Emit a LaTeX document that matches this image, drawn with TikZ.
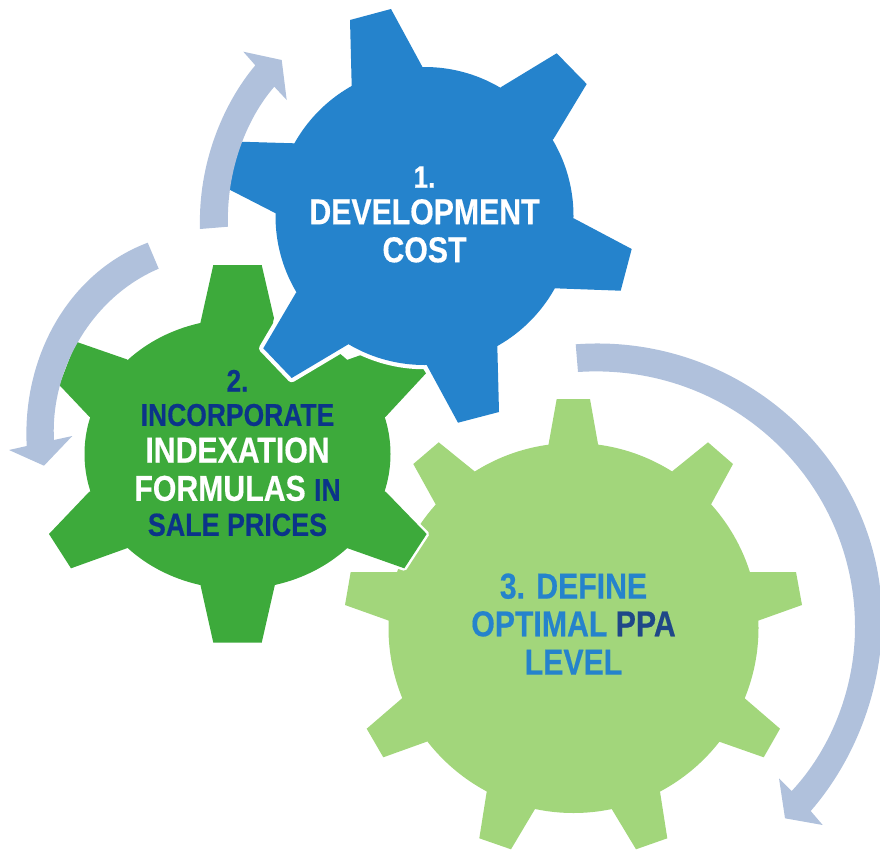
\documentclass[tikz,border=0pt]{standalone}
\usepackage{fontspec}
\setmainfont[FakeStretch=0.84,BoldFeatures={FakeBold=0.4}]{Liberation Sans}
\definecolor{gearblue}{HTML}{2583CC}
\definecolor{geargreen}{HTML}{3DAA3B}
\definecolor{gearlight}{HTML}{A2D67B}
\definecolor{arrowblue}{HTML}{B0C1DC}
\definecolor{inkblue}{HTML}{0B3489}
\definecolor{inkppa}{HTML}{1F4788}
\newcommand{\fs}[1]{\fontsize{#1}{37}\selectfont}
\tikzset{
  halogear/.style n args={2}{fill=#1,preaction={draw=white,line width=#2,line join=round}},
  bend arrow/.style={fill=arrowblue},
  label text/.style={inner sep=0pt,align=center,font=\bfseries\fs{36}}
}
\begin{document}
\begin{tikzpicture}[x=1pt,y=-1pt]
\useasboundingbox (0,0) rectangle (880,851);
% light green gear
\coordinate (lc) at (573.5,628);
\path[fill=gearlight] (lc) circle[radius=185pt]
 (598.3,445.7)--(590,399)--(556.7,399)--(548.3,445.7)--(lc)--cycle
 (710.7,505)--(733,464)--(708,442.3)--(671.7,471.7)--(lc)--cycle
 (758,620.7)--(802,605)--(796,572)--(749,572)--(lc)--cycle
 (719.3,741.7)--(763.7,757.3)--(780,728.7)--(744.7,698.3)--(lc)--cycle
 (611.7,809)--(636,849.3)--(667.3,838.3)--(660,791.7)--(lc)--cycle
 (486.7,791.7)--(479.3,838.3)--(511,849.3)--(535,809)--(lc)--cycle
 (402,698.3)--(366.7,728.7)--(383.3,757.3)--(426.7,741.7)--(lc)--cycle
 (397.7,572)--(350.7,572)--(345,605)--(389,620.7)--(lc)--cycle
 (475,471.7)--(438.7,442.3)--(413.3,464)--(436,505)--(lc)--cycle;
% green gear
\coordinate (gc) at (237.5,454);
\path[halogear={geargreen}{5pt}] (gc) ellipse[x radius=153pt,y radius=135pt]
 (274,318.3)--(261.7,265)--(213.3,265)--(200.3,323.3)--(gc)--cycle
 (385.7,416.7)--(426,373.3)--(404.3,339.7)--(347.7,359.7)--(gc)--cycle
 (347.7,548.3)--(404.3,568.3)--(426.7,534)--(385.7,491.7)--(gc)--cycle
 (200.3,584.3)--(213.3,642.7)--(261.7,642.7)--(275,584.3)--(gc)--cycle
 (89.3,491.7)--(49,534)--(71,568.3)--(126.7,548.3)--(gc)--cycle
 (126.7,359.3)--(76,341.7)--(59.3,385)--(89.3,416.7)--(gc)--cycle;
% blue gear
\coordinate (bc) at (424.5,216);
\path[halogear={gearblue}{8.5pt}] (bc) circle[radius=149pt]
 (422.3,66.7)--(391,9)--(350,20)--(351.7,86)--(bc)--cycle
 (553.3,139.3)--(586.7,84)--(556.7,53.3)--(500.7,87.3)--(bc)--cycle
 (554.7,288.3)--(620.7,290.7)--(631.7,249)--(573.7,218.3)--(bc)--cycle
 (426.7,365)--(458,422.7)--(499,412)--(497.3,345.7)--(bc)--cycle
 (296,292.7)--(263.3,348.3)--(291.7,378)--(348.3,344.3)--(bc)--cycle
 (294,143.3)--(240,141.7)--(228.3,189)--(275.7,213.3)--(bc)--cycle;
% circular arrows
\path[bend arrow] (200,229) .. controls (198,165) and (222,105) .. (255.3,65.3)
 -- (243.3,51.7) -- (281.7,60) -- (286.7,100) -- (274.3,86.7)
 .. controls (247,118) and (226,170) .. (228,226.7) -- cycle;
\path[bend arrow] (147.7,242.7) .. controls (70,272) and (22,355) .. (26.7,446)
 -- (9,450) -- (44,465.7) -- (72.3,436) -- (54,440)
 .. controls (50,370) and (92,297) .. (158.7,268.7) -- cycle;
\path[bend arrow] (575.7,344.3) .. controls (740,332) and (882,460) .. (882,620)
 .. controls (882,690) and (855,760) .. (810.7,811)
 -- (822.7,825) -- (785,818.3) -- (779,778.3) -- (791.7,791)
 .. controls (830,750) and (855,690) .. (855,627)
 .. controls (855,480) and (730,362) .. (578,372) -- cycle;
% labels
\node[label text,text=white] (one) at (424.5,214.5)
 {{\fs{31}1.}\\[-.5pt]DEVELOPMENT\\[1pt]COST};
\node[label text,text=white] (two) at (237.5,453)
 {{\fs{31}\color{inkblue}2.}\\[-2.7pt]{\fs{31.5}\color{inkblue}INCORPORATE}\\[-.3pt]INDEXATION\\[1.3pt]FORMULAS {\fs{31.5}\color{inkblue}IN}\\[-2pt]{\fs{32}\color{inkblue}SALE PRICES}};
\node[label text,text=gearblue] (three) at (573.5,624)
 {3. DEFINE\\[.7pt]OPTIMAL {\color{inkppa}PPA}\\[1.3pt]LEVEL};
\end{tikzpicture}
\end{document}
